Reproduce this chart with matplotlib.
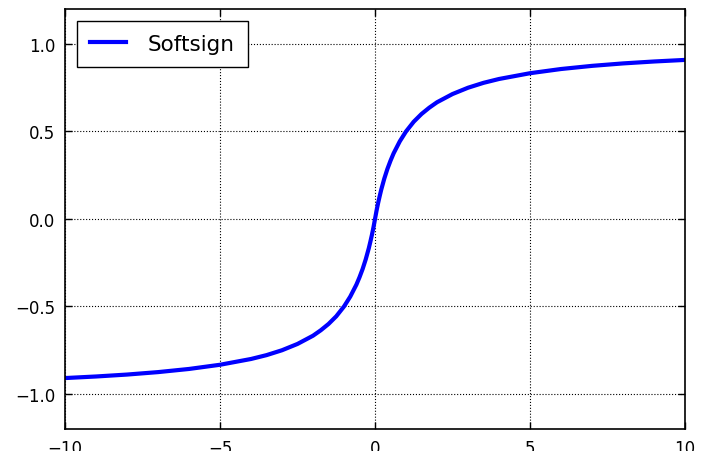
import matplotlib
matplotlib.use("Agg")
import matplotlib.pyplot as plt

# points
x_vals = [-10, -9, -8, -7, -6, -5, -4, -3.5, -3, -2.5, -2, -1.75, -1.5, -1.25, -1,
          -0.8, -0.6, -0.5, -0.4, -0.3, -0.2, -0.15, -0.1, -0.05, 0,
          0.05, 0.1, 0.15, 0.2, 0.3, 0.4, 0.5, 0.6, 0.8,
          1, 1.25, 1.5, 1.75, 2, 2.5, 3, 3.5, 4, 5, 6, 7, 8, 9, 10]
y_vals = [-0.909, -0.900, -0.889, -0.875, -0.857, -0.833, -0.800, -0.778, -0.750, -0.714,
          -0.667, -0.636, -0.600, -0.556, -0.500,
          -0.444, -0.375, -0.333, -0.286, -0.231, -0.167, -0.130, -0.091, -0.048, 0.0,
          0.048, 0.091, 0.130, 0.167, 0.231, 0.286, 0.333, 0.375, 0.444,
          0.500, 0.556, 0.600, 0.636, 0.667, 0.714, 0.750, 0.778, 0.800, 0.833,
          0.857, 0.875, 0.889, 0.900, 0.909]
x_ticks = [-10, -5, 0, 5, 10]
y_ticks = [-1.0, -0.5, 0.0, 0.5, 1.0]

fig = plt.figure(figsize=(7.02, 4.52), dpi=100)
ax = fig.add_axes([0.0926, 0.0487, 0.8832, 0.9292])

ax.plot(x_vals, y_vals, color="blue", linewidth=3, label="Softsign")
ax.set_xlim(-10, 10)
ax.set_ylim(-1.2, 1.2)
ax.set_xticks(x_ticks)
ax.set_yticks(y_ticks)
ax.set_xticklabels(["\u2212" + str(abs(t)) if t < 0 else str(t) for t in x_ticks])
ax.set_yticklabels(["\u2212%.1f" % abs(t) if t < 0 else "%.1f" % t for t in y_ticks])
ax.tick_params(direction="in", top=True, right=True, length=5, width=1,
               labelsize=12, pad=7, colors="black")
ax.grid(True, linestyle=":", color="black", linewidth=0.8)
for s in ax.spines.values():
    s.set_linewidth(1.2)

leg = ax.legend(loc="upper left", fontsize=15.5, fancybox=False, framealpha=1,
                edgecolor="black", handlelength=1.7, handletextpad=1.0,
                borderpad=0.6, borderaxespad=0.55)
leg.get_frame().set_linewidth(1.0)

plt.savefig("out.png", dpi=100)
plt.close()
